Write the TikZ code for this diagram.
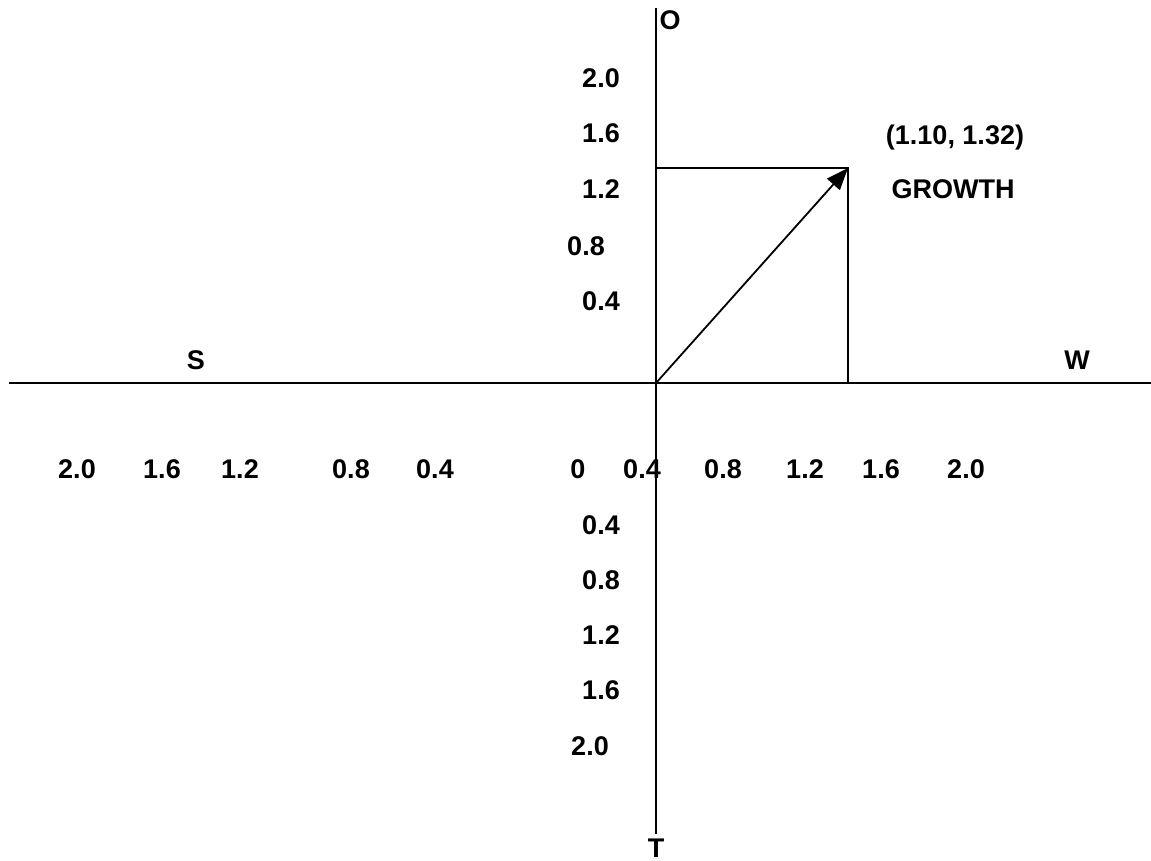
\documentclass[tikz,border=0pt]{standalone}
\usepackage{fontspec}
\setmainfont{Liberation Sans}
\usetikzlibrary{arrows.meta}

\begin{document}
\begin{tikzpicture}[x=1pt, y=-1pt,
        axis/.style={line width=2pt},
        guide/.style={line width=1.8pt},
        vec/.style={line width=1.8pt, -{Triangle[length=22pt, width=17pt]}},
        lbl/.style={font=\fontsize{27}{31}\bfseries\selectfont, inner sep=0pt, anchor=base}]

        \useasboundingbox (0,0) rectangle (1151,861);

        % axes
        \coordinate (orig) at (656,383);
        \coordinate (otop) at (656,8);
        \coordinate (tbot) at (656,834);
        \coordinate (sleft) at (9,383);
        \coordinate (wright) at (1151,383);
        \coordinate (pt) at (848,168);
        \coordinate (ymark) at (656,168);
        \coordinate (xmark) at (848,383);

        \draw[axis] (otop) -- (tbot);
        \draw[axis] (sleft) -- (wright);
        \draw[guide] (ymark) -- (pt) -- (xmark);
        \draw[vec] (orig) -- (pt);

        % axis names
        \node[lbl] (nO) at (670,30) {O};
        \node[lbl] (nT) at (656,857) {T};
        \node[lbl] (nS) at (196,369) {S};
        \node[lbl] (nW) at (1077,369) {W};

        % vertical scale
        \foreach \y/\t [count=\i] in {88/2.0, 143/1.6, 199/1.2, 310/0.4, 534/0.4, 589/0.8, 644/1.2, 699/1.6}
            \node[lbl] (v\i) at (601,\y) {\t};
        \node[lbl] (v08) at (586,255) {0.8};
        \node[lbl] (v20) at (590,755) {2.0};

        % horizontal scale
        \foreach \x/\t [count=\i] in {77/2.0, 162/1.6, 240/1.2, 351/0.8, 435/0.4, 578/0, 642/0.4, 723/0.8, 805/1.2, 881/1.6, 966/2.0}
            \node[lbl] (h\i) at (\x,478) {\t};

        % point
        \node[lbl] (coord) at (955,145) {(1.10, 1.32)};
        \node[lbl] (growth) at (953,199) {GROWTH};

    \end{tikzpicture}
\end{document}
